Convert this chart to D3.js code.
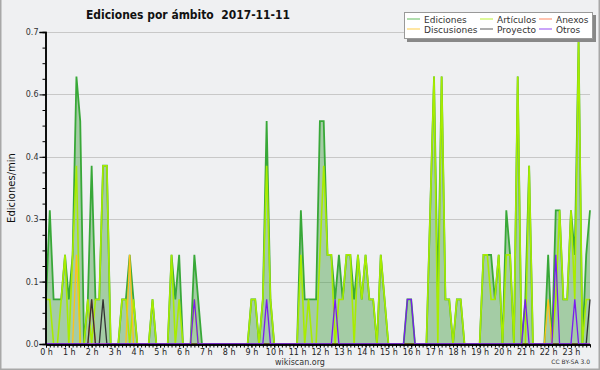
<!DOCTYPE html>
<html>
<head>
<meta charset="utf-8">
<script src="https://cdnjs.cloudflare.com/ajax/libs/d3/7.8.5/d3.min.js"></script>
<style>
  body { margin: 0; background: #fff; }
  svg { display: block; }
  text { font-family: "DejaVu Sans", sans-serif; }
</style>
</head>
<body>
<svg id="chart" width="600" height="370"></svg>
<script>
// editions per minute, one value for each 10 minutes of the day (144 bins)
var ediciones = [
    0.1, 0.3, 0.1, 0.1, 0.1, 0.2, 0.1, 0.2, 0.6, 0.5,
    0, 0.1, 0.4, 0.1, 0.1, 0.4, 0.4, 0, 0, 0,
    0.1, 0.1, 0.2, 0.1, 0, 0, 0, 0, 0.1, 0,
    0, 0, 0, 0.2, 0.1, 0.2, 0, 0, 0, 0.2,
    0.1, 0, 0, 0, 0, 0, 0, 0, 0, 0,
    0, 0, 0, 0, 0.1, 0.1, 0, 0.1, 0.5, 0.1,
    0, 0, 0, 0, 0, 0, 0, 0.3, 0.1, 0.1,
    0.1, 0.1, 0.5, 0.5, 0.2, 0.2, 0.1, 0.2, 0.1, 0.2,
    0.2, 0.1, 0.2, 0.1, 0.2, 0.1, 0.1, 0, 0.2, 0.1,
    0, 0, 0, 0, 0, 0.1, 0.1, 0, 0, 0,
    0, 0.3, 0.6, 0.1, 0.6, 0.1, 0.1, 0, 0.1, 0.1,
    0, 0, 0, 0, 0, 0.2, 0.2, 0.2, 0.1, 0.2,
    0, 0.3, 0.2, 0, 0.6, 0, 0.1, 0.4, 0, 0,
    0, 0, 0.2, 0, 0.3, 0.3, 0.1, 0.1, 0.3, 0.2,
    0.68, 0, 0.2, 0.3
];
var articulos = [
    0.1, 0.1, 0, 0, 0.1, 0.2, 0, 0.2, 0.4, 0,
    0, 0.1, 0, 0.1, 0.1, 0.4, 0.4, 0, 0, 0,
    0.1, 0.1, 0, 0.1, 0, 0, 0, 0, 0.1, 0,
    0, 0, 0, 0.2, 0, 0.1, 0, 0, 0, 0.1,
    0, 0, 0, 0, 0, 0, 0, 0, 0, 0,
    0, 0, 0, 0, 0.1, 0.1, 0, 0.1, 0.4, 0.1,
    0, 0, 0, 0, 0, 0, 0, 0.2, 0, 0.1,
    0, 0, 0.2, 0.4, 0.2, 0.2, 0, 0.1, 0.1, 0.2,
    0.2, 0, 0.2, 0.1, 0.2, 0.1, 0.1, 0, 0.2, 0.1,
    0, 0, 0, 0, 0, 0, 0, 0, 0, 0,
    0, 0.3, 0.6, 0, 0.6, 0.1, 0.1, 0, 0.1, 0.1,
    0, 0, 0, 0, 0, 0.2, 0.2, 0.1, 0.1, 0.2,
    0, 0.2, 0.2, 0, 0.6, 0, 0, 0.4, 0, 0,
    0, 0, 0, 0, 0.1, 0.3, 0.1, 0.1, 0.3, 0.1,
    0.68, 0, 0.1, 0.1
];
// sparse series: bin -> value
var anexos = {12: 0.1};
var discusiones = {8: 0.2, 22: 0.2, 132: 0.1};
var proyecto = {12: 0.1, 15: 0.1, 143: 0.1};
var otros = {39: 0.1, 58: 0.1, 76: 0.1, 95: 0.1, 96: 0.1, 126: 0.1, 134: 0.2, 139: 0.1};

var hourLabels = d3.range(0, 24).map(function(h) { return h + " h"; });
var legendNames = ["Ediciones", "Artículos", "Anexos", "Discusiones", "Proyecto", "Otros"];
var legendColors = ["#3aaa35", "#aaee00", "#ff6a3a", "#ffc21a", "#333333", "#7a1cf0"];

function dense(obj) {
    return d3.range(144).map(function(i) { return obj[i] || 0; });
}

var series = [
    {name: "Artículos", values: articulos, color: "#a8ec00", width: 1.6},
    {name: "Anexos", values: dense(anexos), color: "#ff6a3a", width: 1.3},
    {name: "Discusiones", values: dense(discusiones), color: "#ffc21a", width: 1.3},
    {name: "Proyecto", values: dense(proyecto), color: "#333333", width: 1.3},
    {name: "Otros", values: dense(otros), color: "#7a1cf0", width: 1.3}
];

var svg = d3.select("#chart");
var plotLeft = 46, plotRight = 590, plotTop = 32, plotBottom = 344;

svg.append("rect").attr("width", 600).attr("height", 370).attr("fill", "#eff0f2");
svg.append("rect").attr("x", 0.75).attr("y", -2).attr("width", 598.5).attr("height", 371.25)
    .attr("fill", "none").attr("stroke", "#a8a8a8").attr("stroke-width", 1.5);

var x = d3.scaleLinear().domain([0, 143]).range([plotLeft, plotRight]);
var y = d3.scaleLinear().domain([0, 0.7]).range([plotBottom, plotTop]);

var majorY = d3.range(0, 6).map(function(i) { return i * 0.14; });
var minorY = d3.range(0, 21).map(function(i) { return i * 0.035; });

// grid lines
svg.append("g").selectAll("line")
    .data(majorY.slice(1))
    .enter().append("line")
    .attr("x1", plotLeft).attr("x2", plotRight)
    .attr("y1", function(d) { return Math.round(y(d)) + 0.5; })
    .attr("y2", function(d) { return Math.round(y(d)) + 0.5; })
    .attr("stroke", "#c8c8c8").attr("stroke-width", 1);

// area of all edits
var area = d3.area()
    .x(function(d, i) { return x(i); })
    .y0(y(0))
    .y1(function(d) { return y(d); });

svg.append("path")
    .datum(ediciones)
    .attr("d", area)
    .attr("fill", "#3c9a3c")
    .attr("fill-opacity", 0.42);

var line = d3.line()
    .x(function(d, i) { return x(i); })
    .y(function(d) { return y(d); });

svg.append("path")
    .datum(ediciones)
    .attr("d", line)
    .attr("fill", "none")
    .attr("stroke", "#38a838")
    .attr("stroke-width", 1.8);

svg.append("g").selectAll("path")
    .data(series)
    .enter().append("path")
    .attr("d", function(d) { return line(d.values); })
    .attr("fill", "none")
    .attr("stroke", function(d) { return d.color; })
    .attr("stroke-width", function(d) { return d.width; });

// axes
var yAxis = svg.append("g").attr("transform", "translate(" + (plotLeft - 0.5) + ",0)");
yAxis.call(d3.axisLeft(y).tickValues(minorY).tickSize(3).tickFormat(""));
yAxis.append("g").call(d3.axisLeft(y).tickValues(majorY).tickSize(6).tickPadding(1).tickFormat(d3.format(".1f")));
yAxis.selectAll(".domain").attr("stroke", "#000").attr("stroke-width", 1.5);
yAxis.selectAll("text").attr("font-size", 8).attr("fill", "#333").attr("font-family", "DejaVu Sans");

var xAxis = svg.append("g").attr("transform", "translate(0," + (plotBottom + 0.5) + ")");
xAxis.call(d3.axisBottom(x).tickValues(d3.range(0, 144)).tickSize(3).tickSizeOuter(0).tickFormat(""));
xAxis.append("g").call(d3.axisBottom(x).tickValues(d3.range(0, 144, 6)).tickSize(3).tickSizeOuter(0).tickPadding(2)
    .tickFormat(function(d) { return hourLabels[d / 6]; }));
xAxis.selectAll(".domain").attr("stroke", "#000").attr("stroke-width", 1.5);
xAxis.selectAll("text").attr("font-size", 8).attr("fill", "#222").attr("font-family", "DejaVu Sans");

// title
svg.append("text").attr("x", 86).attr("y", 19)
    .attr("font-size", 12).attr("font-weight", "bold").attr("fill", "#111")
    .attr("textLength", 204).attr("lengthAdjust", "spacingAndGlyphs")
    .text("Ediciones por ámbito\u00a0\u00a02017-11-11");

svg.append("text")
    .attr("transform", "translate(15," + ((plotTop + plotBottom) / 2) + ") rotate(-90)")
    .attr("text-anchor", "middle")
    .attr("font-family", "DejaVu Sans Mono").attr("font-size", 10).attr("fill", "#111")
    .text("Ediciones/min");

svg.append("text").attr("x", 300).attr("y", 365).attr("text-anchor", "middle")
    .attr("font-size", 8).attr("fill", "#333").text("wikiscan.org");
svg.append("text").attr("x", 590).attr("y", 364).attr("text-anchor", "end")
    .attr("font-size", 6).attr("fill", "#333").text("CC BY-SA 3.0");

// legend
var lg = svg.append("g");
lg.append("rect").attr("x", 407).attr("y", 15).attr("width", 189).attr("height", 27).attr("fill", "#888");
lg.append("rect").attr("x", 404.5).attr("y", 12.5).attr("width", 188).attr("height", 26)
    .attr("fill", "#fff").attr("stroke", "#999");
var colX = [407, 480, 539];
var item = lg.selectAll("g.item")
    .data(legendNames)
    .enter().append("g")
    .attr("transform", function(d, i) {
        return "translate(" + colX[i % 3] + "," + (i < 3 ? 19 : 29) + ")";
    });
item.append("line").attr("x1", 0).attr("x2", 13).attr("y1", 0).attr("y2", 0)
    .attr("stroke", function(d, i) { return legendColors[i]; }).attr("stroke-width", 1)
    .attr("stroke-opacity", 0.8);
item.append("text").attr("x", 17).attr("y", 3.5)
    .attr("font-size", 9).attr("fill", "#333").text(function(d) { return d; });
</script>
</body>
</html>
